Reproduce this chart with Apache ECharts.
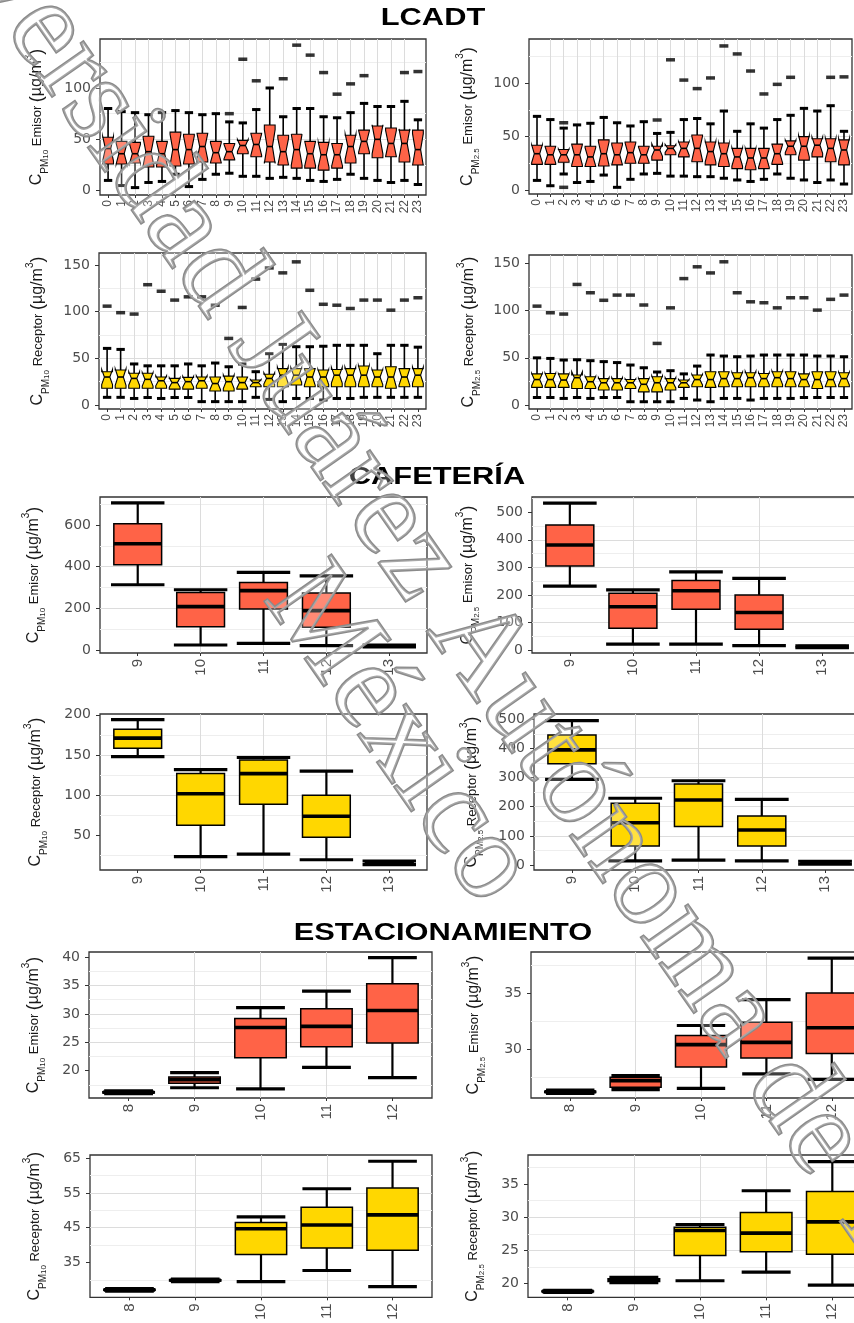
<!DOCTYPE html>
<html lang="es">
<head>
<meta charset="utf-8">
<title>LCADT / Cafetería / Estacionamiento</title>
<script src="https://cdn.jsdelivr.net/npm/echarts@6.0.0/dist/echarts.min.js"></script>
<style>
  html, body { margin: 0; padding: 0; background: #fff; overflow: hidden; }
  #grafica { width: 900px; height: 1323px; }
</style>
</head>
<body>
<div id="grafica"></div>
<script>
// categorias (hora del dia)
var horasLcadt = ['0','1','2','3','4','5','6','7','8','9','10','11','12','13','14','15','16','17','18','19','20','21','22','23'];
var horasCafe = ['9','10','11','12','13'];
var horasEstac = ['8','9','10','11','12'];

// cajas: [min, Q1, mediana, Q3, max] por hora
var lcadtPm10Emisor = [
  [10,26,41,52,80],[5,26,36,48,77],[3,27,36,47,76],[8,23,38,53,74],[9,23,36,48,76],[16,24,40,57,78],
  [4,26,40,55,76],[11,28,43,56,74],[16,27,37,48,75],[17,30,38,46,67],[14,36,44,49,66],[14,33,45,56,79],
  [12,28,43,64,100],[13,25,38,54,72],[12,22,40,55,80],[10,22,36,48,80],[9,20,35,47,72],[11,22,35,46,71],
  [16,27,43,54,76],[12,36,48,59,85],[10,32,50,63,82],[8,33,46,61,82],[10,28,46,59,87],[6,25,40,59,69]
];
// valores atipicos: [indice de hora, valor]
var lcadtPm10EmisorAtip = [[9,75],[10,128],[11,107],[13,109],[14,141.7],[15,132],[16,115],[17,94],[18,104],[19,112],[22,115],[23,116]];

var lcadtPm25Emisor = [
  [9,24,34,42,69],[4,24,33,41,66],[15,26,33,38,58],[7,22,33,43,61],[8,22,31,41,62.5],[14,22.5,34,47,68],
  [2.5,23.5,33,44,63],[10,25,35,45,60],[15,25,33,41,64],[15.6,28,37.5,41,53],[13,33,39,41.5,54],[13,31,39,45,66],
  [12.5,26.5,39,51.5,67],[12.5,23.5,36,45,62],[11,22,34,44,74],[9.4,20,31,39,55],[8,19,30,39,62],[10,20,30,39,58],
  [15,24,34,43,66],[11,33,41,46,70],[9.4,28,41,50,76.5],[7,31,42,48,74],[9.4,26.5,39,48,79],[5.6,23.5,37.5,47,55]
];
var lcadtPm25EmisorAtip = [[2,63],[2,2.5],[9,65.6],[10,122],[11,103],[12,95],[13,105],[14,135],[15,127.5],[16,111.5],[17,90],[18,99],[19,105.6],[22,105.6],[23,106]];

var lcadtPm10Receptor = [
  [8.2,18,30,35.7,60.7],[8.2,18,30,37.5,59.6],[7,18,28.5,34,44],[8,18,27.5,34,42],[7,18,26,30,42],[8,17,24,28.5,42],
  [8,17,25,29.6,44],[3.6,18,26,30,42],[3.6,15,23,30,45],[3.6,15,25,31,41],[3.6,17,24,30,44],[8.2,19.6,24,26.8,35.7],
  [6,19.6,28.5,33,55],[3.6,19.6,32,39,65],[7,21.4,32,39,62.5],[7,19.6,30,39,62.5],[5.4,19.6,30,37.5,63],[7,19.6,32,38,64],
  [7,19.6,32,39,64],[8.2,19.6,32,41.8,64],[8.2,19.6,30,37.5,55],[8.2,18,30,41,64],[8.2,19.6,30,39,64],[8.2,19.6,32,39,62]
];
var lcadtPm10ReceptorAtip = [[0,106],[1,99],[2,97.5],[3,129],[4,122],[5,112.5],[6,116],[7,116],[8,107],[9,71.4],[10,104.6],[11,135],
  [12,147],[13,141.7],[14,153.5],[15,123],[16,108],[17,107],[18,103.5],[19,112.5],[20,112.5],[21,101.7],[22,112.5],[23,115]];

var lcadtPm25Receptor = [
  [8,18.7,27,33,50],[8,18.7,27,33.5,49.4],[7,18.7,26.5,33,47.7],[8,17.6,29,31.8,48],[7,17.6,24.7,30,47],[8,15.9,23.6,28,46],
  [8,15.9,23.6,28,45],[3.5,17.6,23.6,27,42.4],[3.5,14,22,28,39.5],[3.5,14,23.6,30,35],[3.5,15.9,23.6,28,36.4],[7,18.7,23.6,26.5,33],
  [5.3,19.4,27,31.8,41.3],[3.5,18.7,27,35.3,53],[7,19.4,28,35.3,51.9],[7,19.4,28,34.2,51.2],[5.3,19.4,29,34.2,51.9],[7,19.4,28,33.5,53],
  [7,19.4,29,35.3,53],[7,19.4,28,35.3,53],[8,19.4,27,33,53],[8,17.6,27,35.3,51.9],[8,19.4,27,35.3,51.9],[8,19.4,28,34.2,51.2]
];
var lcadtPm25ReceptorAtip = [[0,104.8],[1,97.8],[2,96.4],[3,127.8],[4,119],[5,111],[6,116.5],[7,116.5],[8,106],[9,65.3],[10,103],[11,134],
  [12,146.5],[13,140],[14,151.8],[15,119],[16,109.4],[17,108.4],[18,103],[19,113.7],[20,113.7],[21,100.6],[22,112],[23,116.5]];

var cafePm10Emisor = [[313,409,510,606,706],[24,112,208,276,289],[32,197,285,324,372],[21,109,189,273,356],[15,17,19,21,23]];
var cafePm25Emisor = [[232,305,381,454,533],[21,79,157,206,218],[21,148,215,252,284],[16,75,136,200,260],[8,10,12,13,15]];
var cafePm10Receptor = [[148,158.5,171,182,194],[24,63,102,127,132],[27,89,127,144,147],[20,48,74,100,130],[14,15.5,16.4,17,18.5]];
var cafePm25Receptor = [[294,347,395,446,495],[14,65,145,212,229],[17,132,223,278,289],[14,65,120,168,225],[3,6,8,10,13]];

var estacPm10Emisor = [[15.95,16.1,16.2,16.3,16.45],[17.0,17.8,18.4,18.9,19.65],[16.8,22.3,27.6,29.2,31.1],[20.6,24.2,27.8,30.9,34.0],[18.8,24.9,30.6,35.3,39.9]];
var estacPm25Emisor = [[26.05,26.15,26.2,26.25,26.35],[26.4,26.6,27.2,27.5,27.65],[26.5,28.4,30.4,31.2,32.1],[27.8,29.2,30.6,32.4,34.4],[27.3,29.6,31.9,35.0,38.1]];
var estacPm10Receptor = [[26.8,27.0,27.15,27.3,27.5],[29.5,29.7,29.9,30.05,30.25],[29.5,37.3,44.7,46.5,48.1],[32.7,39.2,45.8,50.9,56.2],[28.1,38.5,48.7,56.4,64.1]];
var estacPm25Receptor = [[18.65,18.75,18.8,18.85,18.95],[20.1,20.3,20.5,20.7,20.9],[20.4,24.2,28.0,28.5,28.9],[21.7,24.8,27.6,30.7,34.0],[19.75,24.4,29.3,33.9,38.4]];

// marcas del eje y
var ticksA1 = [0, 50, 100], ticksA2 = [0, 50, 100], ticksA3 = [0, 50, 100, 150], ticksA4 = [0, 50, 100, 150];
var ticksB1 = [0, 200, 400, 600], ticksB2 = [0, 100, 200, 300, 400, 500], ticksB3 = [50, 100, 150, 200], ticksB4 = [0, 100, 200, 300, 400, 500];
var ticksC1 = [20, 25, 30, 35, 40], ticksC2 = [30, 35], ticksC3 = [35, 45, 55, 65], ticksC4 = [20, 25, 30, 35];

var ROJO = '#FF6347', AMARILLO = '#FFD700';
var N_OBS = 12;                       // para la muesca: 1.58 * IQR / sqrt(n)
var K_MUESCA = 1.58 / Math.sqrt(N_OBS);

var paneles = [
  { cajas: lcadtPm10Emisor, atip: lcadtPm10EmisorAtip, cats: horasLcadt, ticks: ticksA1, rango: [-4.2, 147.7], paso: 50, pm: '10', tipo: 'Emisor', relleno: ROJO, sec: 0 },
  { cajas: lcadtPm25Emisor, atip: lcadtPm25EmisorAtip, cats: horasLcadt, ticks: ticksA2, rango: [-3.75, 141.5], paso: 50, pm: '2.5', tipo: 'Emisor', relleno: ROJO, sec: 0 },
  { cajas: lcadtPm10Receptor, atip: lcadtPm10ReceptorAtip, cats: horasLcadt, ticks: ticksA3, rango: [-4.3, 163], paso: 50, pm: '10', tipo: 'Receptor', relleno: AMARILLO, sec: 0 },
  { cajas: lcadtPm25Receptor, atip: lcadtPm25ReceptorAtip, cats: horasLcadt, ticks: ticksA4, rango: [-4.2, 159], paso: 50, pm: '2.5', tipo: 'Receptor', relleno: AMARILLO, sec: 0 },
  { cajas: cafePm10Emisor, cats: horasCafe, ticks: ticksB1, rango: [-14.4, 734], paso: 200, pm: '10', tipo: 'Emisor', relleno: ROJO, sec: 1 },
  { cajas: cafePm25Emisor, cats: horasCafe, ticks: ticksB2, rango: [-11, 555.6], paso: 100, pm: '2.5', tipo: 'Emisor', relleno: ROJO, sec: 1 },
  { cajas: cafePm10Receptor, cats: horasCafe, ticks: ticksB3, rango: [7.3, 201], paso: 50, pm: '10', tipo: 'Receptor', relleno: AMARILLO, sec: 1 },
  { cajas: cafePm25Receptor, cats: horasCafe, ticks: ticksB4, rango: [-17, 518], paso: 100, pm: '2.5', tipo: 'Receptor', relleno: AMARILLO, sec: 1 },
  { cajas: estacPm10Emisor, cats: horasEstac, ticks: ticksC1, rango: [15.2, 40.9], paso: 5, pm: '10', tipo: 'Emisor', relleno: ROJO, sec: 2 },
  { cajas: estacPm25Emisor, cats: horasEstac, ticks: ticksC2, rango: [25.65, 38.64], paso: 5, pm: '2.5', tipo: 'Emisor', relleno: ROJO, sec: 2 },
  { cajas: estacPm10Receptor, cats: horasEstac, ticks: ticksC3, rango: [25, 65.9], paso: 10, fijo: true, pm: '10', tipo: 'Receptor', relleno: AMARILLO, sec: 2 },
  { cajas: estacPm25Receptor, cats: horasEstac, ticks: ticksC4, rango: [17.9, 39.4], paso: 5, pm: '2.5', tipo: 'Receptor', relleno: AMARILLO, sec: 2 }
];

// marco de cada panel: [izq, arriba, der, abajo] y separacion del titulo del eje y
var marcos = [
  [100, 39, 426, 195], [529, 39, 852, 194],
  [99, 253, 426, 409], [529, 255, 852, 409],
  [100, 497, 427, 653], [532, 497, 860, 653],
  [100, 714, 427, 870], [534, 714, 863, 870],
  [89, 952, 432, 1098], [531, 952, 871, 1098],
  [90, 1155, 432, 1301], [528, 1155, 872, 1301]
];
var gaps = [50, 48, 48, 47, 53, 51, 51, 49, 42, 44, 42, 42];

var estilos = [
  { caja: 0.8, tope: 0.62, bigote: 1.6, borde: 1.1, mediana: 1.6, tope_lw: 3, muesca: true, fsx: 12, mx: 5 },
  { caja: 0.76, tope: 0.85, bigote: 2.2, borde: 1.5, mediana: 3.6, tope_lw: 3.2, muesca: false, fsx: 15, mx: 6 },
  { caja: 0.78, tope: 0.74, bigote: 2.2, borde: 1.5, mediana: 3.6, tope_lw: 3.2, muesca: false, fsx: 15, mx: 6 }
];

var richNombre = {
  c: { fontSize: 16, lineHeight: 26, fontFamily: 'Liberation Sans', color: '#1a1a1a' },
  s: { fontSize: 10, lineHeight: 12, verticalAlign: 'bottom', fontFamily: 'Liberation Sans', color: '#1a1a1a' },
  ss: { fontSize: 8, lineHeight: 8, verticalAlign: 'bottom', fontFamily: 'Liberation Sans', color: '#1a1a1a' },
  e: { fontSize: 13, lineHeight: 26, fontFamily: 'Liberation Sans', color: '#1a1a1a' },
  p: { fontSize: 18, lineHeight: 26, fontFamily: 'Liberation Sans', color: '#1a1a1a' },
  u: { fontSize: 16, lineHeight: 26, fontFamily: 'Liberation Sans', color: '#1a1a1a' },
  sup: { fontSize: 10, lineHeight: 12, verticalAlign: 'top', fontFamily: 'Liberation Sans', color: '#1a1a1a' }
};

function etiqueta(pm, tipo) {
  return '{c|C}{s|PM}{ss|' + pm + '}{e| ' + tipo + ' }{p|(}{u|\u00b5g/m}{sup|3}{p|)}';
}

function dibujaCaja(relleno, est) {
  return function (params, api) {
    var x = api.value(0);
    var v = [api.value(1), api.value(2), api.value(3), api.value(4), api.value(5)];
    var p = v.map(function (d) { return api.coord([x, d]); });
    var banda = api.size([1, 0])[0];
    var cx = p[0][0];
    var mw = banda * est.caja / 2;
    var cw = banda * est.tope / 2;
    var negro = '#000';
    var hijos = [
      { type: 'line', shape: { x1: cx, y1: p[0][1], x2: cx, y2: p[1][1] }, style: { stroke: negro, lineWidth: est.bigote } },
      { type: 'line', shape: { x1: cx, y1: p[3][1], x2: cx, y2: p[4][1] }, style: { stroke: negro, lineWidth: est.bigote } }
    ];
    if (est.muesca) {
      var iqr = v[3] - v[1];
      var yLo = api.coord([x, v[2] - K_MUESCA * iqr])[1];
      var yHi = api.coord([x, v[2] + K_MUESCA * iqr])[1];
      hijos.push({
        type: 'polygon',
        shape: { points: [[cx - mw, p[1][1]], [cx - mw, yLo], [cx - mw / 2, p[2][1]], [cx - mw, yHi], [cx - mw, p[3][1]],
          [cx + mw, p[3][1]], [cx + mw, yHi], [cx + mw / 2, p[2][1]], [cx + mw, yLo], [cx + mw, p[1][1]]] },
        style: { fill: relleno, stroke: negro, lineWidth: est.borde, lineJoin: 'miter' }
      });
      hijos.push({ type: 'line', shape: { x1: cx - mw / 2, y1: p[2][1], x2: cx + mw / 2, y2: p[2][1] }, style: { stroke: negro, lineWidth: est.mediana } });
    } else {
      hijos.push({ type: 'rect', shape: { x: cx - mw, y: p[3][1], width: 2 * mw, height: p[1][1] - p[3][1] }, style: { fill: relleno, stroke: negro, lineWidth: est.borde } });
      hijos.push({ type: 'line', shape: { x1: cx - mw, y1: p[2][1], x2: cx + mw, y2: p[2][1] }, style: { stroke: negro, lineWidth: est.mediana } });
    }
    hijos.push({ type: 'line', shape: { x1: cx - cw, y1: p[0][1], x2: cx + cw, y2: p[0][1] }, style: { stroke: negro, lineWidth: est.tope_lw } });
    hijos.push({ type: 'line', shape: { x1: cx - cw, y1: p[4][1], x2: cx + cw, y2: p[4][1] }, style: { stroke: negro, lineWidth: est.tope_lw } });
    return { type: 'group', children: hijos };
  };
}

var grids = [], xAxes = [], yAxes = [], series = [];
paneles.forEach(function (pn, i) {
  var m = marcos[i], est = estilos[pn.sec];
  grids.push({ left: m[0], top: m[1], width: m[2] - m[0], height: m[3] - m[1], show: true, borderColor: '#333', borderWidth: 1.3, backgroundColor: 'transparent' });
  var idx = pn.cats.map(function (c, k) { return k; });
  xAxes.push({
    type: 'value', gridIndex: i, min: -0.6, max: pn.cats.length - 0.4, minInterval: 1, maxInterval: 1,
    axisLine: { show: false, onZero: false },
    axisTick: { show: true, length: 3, customValues: idx, lineStyle: { color: '#333' } },
    axisLabel: {
      rotate: 90, margin: est.mx, fontSize: est.fsx, fontFamily: 'Liberation Sans', color: '#4d4d4d', customValues: idx,
      formatter: function (v) { var k = Math.round(v); return Math.abs(v - k) < 1e-6 && pn.cats[k] != null ? pn.cats[k] : ''; }
    },
    splitLine: { show: true, showMinLine: false, showMaxLine: false, lineStyle: { color: '#dcdcdc', width: 1 } }
  });
  var ya = {
    type: 'value', gridIndex: i, min: pn.rango[0], max: pn.rango[1],
    name: etiqueta(pn.pm, pn.tipo), nameLocation: 'middle', nameGap: gaps[i],
    nameTextStyle: { rich: richNombre },
    axisLine: { show: false, onZero: false },
    axisTick: { show: true, length: 4, customValues: pn.ticks, lineStyle: { color: '#333' } },
    axisLabel: {
      margin: 9, fontSize: 14, fontFamily: 'DejaVu Sans', color: '#4d4d4d', customValues: pn.ticks,
      formatter: function (v) {
        for (var k = 0; k < pn.ticks.length; k++) { if (Math.abs(pn.ticks[k] - v) < 1e-6) return String(pn.ticks[k]); }
        return '';
      }
    },
    splitLine: { show: true, showMinLine: false, showMaxLine: false, lineStyle: { color: '#dcdcdc', width: 1 } },
    minorTick: { show: false, splitNumber: 2 },
    minorSplitLine: { show: true, lineStyle: { color: '#eeeeee', width: 1 } }
  };
  if (pn.fijo) { ya.interval = pn.paso; } else { ya.minInterval = pn.paso; ya.maxInterval = pn.paso; }
  yAxes.push(ya);
  series.push({
    type: 'custom', xAxisIndex: i, yAxisIndex: i, silent: true, clip: false, z: 3,
    renderItem: dibujaCaja(pn.relleno, est),
    encode: { x: 0, y: [1, 2, 3, 4, 5] },
    data: pn.cajas.map(function (b, k) { return [k].concat(b); })
  });
  if (pn.atip) {
    series.push({
      type: 'scatter', xAxisIndex: i, yAxisIndex: i, silent: true, z: 4,
      symbol: 'rect', symbolSize: [9, 3.5], itemStyle: { color: '#000' },
      data: pn.atip
    });
  }
});

var fuenteTitulo = 'bold 23px "Liberation Sans"';
var titulos = [
  { type: 'text', x: 433, y: 19, scaleX: 1.34, style: { text: 'LCADT', font: fuenteTitulo, fill: '#000', align: 'center', verticalAlign: 'middle' } },
  { type: 'text', x: 437, y: 478, scaleX: 1.34, style: { text: 'CAFETERÍA', font: fuenteTitulo, fill: '#000', align: 'center', verticalAlign: 'middle' } },
  { type: 'text', x: 443, y: 934, scaleX: 1.34, style: { text: 'ESTACIONAMIENTO', font: fuenteTitulo, fill: '#000', align: 'center', verticalAlign: 'middle' } }
];
// marca de agua institucional
var angulo = -55 * Math.PI / 180;
var estiloAgua = { font: '124px "Liberation Serif"', fill: 'rgba(255,255,255,0.25)', stroke: '#8a8a8a', lineWidth: 2.6, align: 'center', verticalAlign: 'middle' };
var agua = [
  { type: 'text', x: 488, y: 662, rotation: angulo, z: 100, silent: true, style: Object.assign({ text: 'Universidad Juárez Autónoma de Tabasco' }, estiloAgua) },
  { type: 'text', x: 398, y: 735, rotation: angulo, z: 100, silent: true, style: Object.assign({ text: 'México' }, estiloAgua) }
];

var grafica = echarts.init(document.getElementById('grafica'), null, { renderer: 'canvas' });
grafica.setOption({
  animation: false,
  backgroundColor: '#fff',
  grid: grids,
  xAxis: xAxes,
  yAxis: yAxes,
  series: series,
  graphic: titulos.concat(agua)
});
</script>
</body>
</html>
